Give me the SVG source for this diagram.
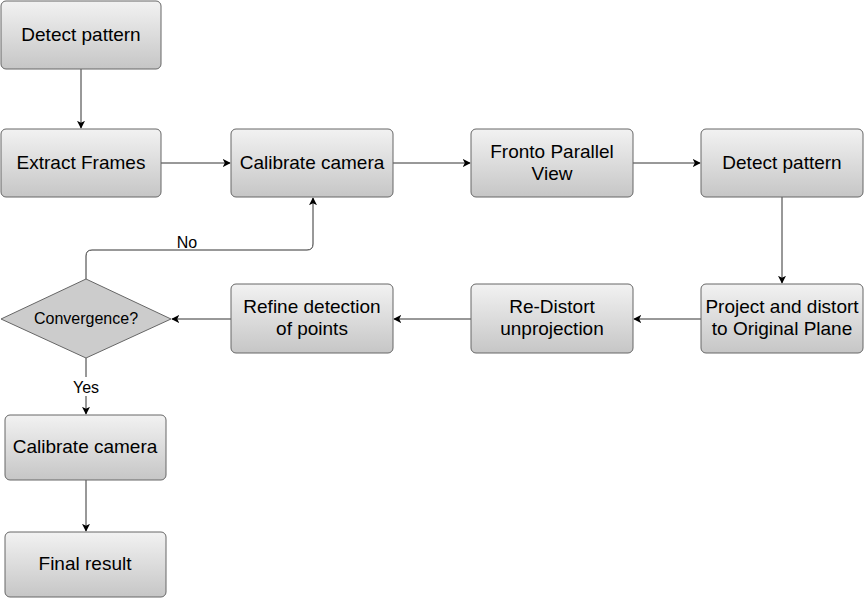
<svg xmlns="http://www.w3.org/2000/svg" width="864" height="598" viewBox="0 0 864 598">
<defs>
<linearGradient id="g" x1="0" y1="0" x2="0" y2="1">
<stop offset="0" stop-color="#f2f2f2"/>
<stop offset="1" stop-color="#c6c6c6"/>
</linearGradient>
<marker id="a" viewBox="0 0 10 10" refX="9" refY="5" markerWidth="8" markerHeight="8" markerUnits="userSpaceOnUse" orient="auto">
<path d="M0,0 L10,5 L0,10 L2.5,5 Z" fill="#000"/>
</marker>
<style>
.box{fill:url(#g);stroke:#666;stroke-width:1}
.t{font-family:"Liberation Sans",Arial,sans-serif;font-size:19px;fill:#000;text-anchor:middle}
.s{font-family:"Liberation Sans",Arial,sans-serif;font-size:16px;fill:#000;text-anchor:middle}
.c{fill:none;stroke:#333;stroke-width:1;marker-end:url(#a)}
</style>
</defs>
<rect width="864" height="598" fill="#fff"/>
<g id="connectors">
<path class="c" d="M81,69 V128"/>
<path class="c" d="M161,163 H230"/>
<path class="c" d="M393,163 H470"/>
<path class="c" d="M633,163 H700"/>
<path class="c" d="M782,197 V283"/>
<path class="c" d="M701,319 H634"/>
<path class="c" d="M471,319 H394"/>
<path class="c" d="M231,319 H172"/>
<path class="c" d="M86,279 V256 Q86,250 92,250 H307 Q313,250 313,244 V198"/>
<path class="c" d="M86,358 V414"/>
<path class="c" d="M86,480 V531"/>
<rect x="70" y="377" width="32" height="19" fill="#fff"/>
</g>
<text class="s" x="187" y="248">No</text>
<text class="s" x="86" y="393">Yes</text>
<g id="n1"><rect class="box" x="1" y="1" width="160" height="68" rx="5"/><text class="t" x="81" y="41">Detect pattern</text></g>
<g id="n2"><rect class="box" x="1" y="129" width="160" height="68" rx="5"/><text class="t" x="81" y="169">Extract Frames</text></g>
<g id="n3"><rect class="box" x="231" y="129" width="162" height="68" rx="5"/><text class="t" x="312" y="169">Calibrate camera</text></g>
<g id="n4"><rect class="box" x="471" y="129" width="162" height="68" rx="5"/><text class="t" x="552" y="158">Fronto Parallel</text><text class="t" x="552" y="180">View</text></g>
<g id="n5"><rect class="box" x="701" y="129" width="162" height="68" rx="5"/><text class="t" x="782" y="169">Detect pattern</text></g>
<g id="n6"><rect class="box" x="701" y="284" width="162" height="69" rx="5"/><text class="t" x="782" y="313">Project and distort</text><text class="t" x="782" y="335">to Original Plane</text></g>
<g id="n7"><rect class="box" x="471" y="284" width="162" height="69" rx="5"/><text class="t" x="552" y="313">Re-Distort</text><text class="t" x="552" y="335">unprojection</text></g>
<g id="n8"><rect class="box" x="231" y="284" width="162" height="69" rx="5"/><text class="t" x="312" y="313">Refine detection</text><text class="t" x="312" y="335">of points</text></g>
<g id="n9"><path d="M86,279 L171,319 L86,358 L1,319 Z" fill="#cccccc" stroke="#666"/><text class="s" x="86" y="324">Convergence?</text></g>
<g id="n10"><rect class="box" x="5" y="415" width="161" height="65" rx="5"/><text class="t" x="85" y="453">Calibrate camera</text></g>
<g id="n11"><rect class="box" x="5" y="532" width="161" height="65" rx="5"/><text class="t" x="85" y="570">Final result</text></g>
</svg>
